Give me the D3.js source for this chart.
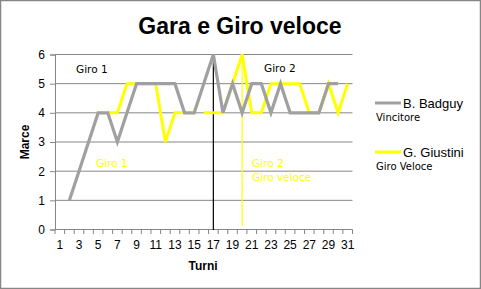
<!DOCTYPE html>
<html lang="it">
<head>
    <meta charset="utf-8">
    <title>Gara e Giro veloce</title>
    <script type="text/javascript" src="https://cdn.jsdelivr.net/npm/d3@7/dist/d3.min.js"></script>
    <style>
        body { margin: 0; background: #fff; }
        svg { display: block; font-family: "Liberation Sans", Arial, sans-serif; }
    </style>
</head>
<body>
    <svg width="481" height="289"></svg>
    <script>
        // giri 1..31
        var turni = d3.range(1, 32);
        // B. Badguy (vincitore), null = nessun dato
        var badguy = [null, 1, 2, 3, 4, 4, 3, 4, 5, 5, 5, 5, 5, 4, 4, 5, 6, 4, 5, 4, 5, 5, 4, 5, 4, 4, 4, 4, 5, 5, null];
        // G. Giustini (giro veloce)
        var giustini = [null, null, null, null, null, 4, 4, 5, 5, 5, 5, 3, 4, 4, null, 4, 4, 4, 5, 6, 4, 4, 5, 5, 5, 5, 4, 4, 5, 4, 5];
        var yTicks = [0, 1, 2, 3, 4, 5, 6];
        var xLabels = turni.filter(function (t) { return t % 2 == 1; });
        var giroLinee = [{ turno: 17, colore: "#000000" }, { turno: 20, colore: "#ffff00" }];

        var svg = d3.select("svg");
        svg.append("rect").attr("x", 0.5).attr("y", 0.5).attr("width", 480).attr("height", 288)
            .attr("fill", "#fff").attr("stroke", "#868686").attr("stroke-width", 1.5);

        var x = d3.scaleBand().domain(turni).range([55, 352.5]).padding(0);
        var y = d3.scaleLinear().domain([0, 6]).range([229.5, 54.5]);
        var cx = function (t) { return x(t) + x.bandwidth() / 2; };

        // griglia
        svg.append("g").selectAll("line")
            .data(yTicks.slice(1))
            .enter().append("line")
            .attr("x1", 55).attr("x2", 352.5)
            .attr("y1", function (d) { return y(d); })
            .attr("y2", function (d) { return y(d); })
            .attr("stroke", "#868686").attr("stroke-width", 1);

        // asse y
        var ay = svg.append("g").attr("transform", "translate(55,0)")
            .call(d3.axisLeft(y).tickValues(yTicks).tickSize(5).tickPadding(5).tickFormat(d3.format("d")));
        ay.select(".domain").attr("stroke", "#868686");
        ay.selectAll(".tick line").attr("stroke", "#868686");
        ay.selectAll("text").attr("font-size", 12).attr("fill", "#000")
            .attr("font-family", "Liberation Sans, Arial, sans-serif");

        // asse x: tacche tra le categorie
        svg.append("line").attr("x1", 55).attr("x2", 352.5).attr("y1", 229.5).attr("y2", 229.5)
            .attr("stroke", "#868686");
        svg.append("g").selectAll("line")
            .data(turni.concat([32]))
            .enter().append("line")
            .attr("x1", function (d) { return d == 32 ? 352.5 : x(d); })
            .attr("x2", function (d) { return d == 32 ? 352.5 : x(d); })
            .attr("y1", 229.5).attr("y2", 234)
            .attr("stroke", "#868686");
        svg.append("g").selectAll("text")
            .data(xLabels)
            .enter().append("text")
            .attr("x", cx).attr("y", 249)
            .attr("text-anchor", "middle").attr("font-size", 12)
            .text(function (d) { return d; });

        // linee verticali dei giri
        svg.append("g").selectAll("line")
            .data(giroLinee)
            .enter().append("line")
            .attr("x1", function (d) { return cx(d.turno); })
            .attr("x2", function (d) { return cx(d.turno); })
            .attr("y1", y(6)).attr("y2", function (d) { return d.turno == 20 ? 226 : 230; })
            .attr("stroke", function (d) { return d.colore; }).attr("stroke-width", 1.2);

        var linea = d3.line()
            .defined(function (d) { return d[1] != null; })
            .x(function (d) { return cx(d[0]); })
            .y(function (d) { return y(d[1]); });

        svg.append("path").datum(turni.map(function (t, i) { return [t, giustini[i]]; }))
            .attr("d", linea).attr("fill", "none")
            .attr("stroke", "#ffff00").attr("stroke-width", 3);
        svg.append("path").datum(turni.map(function (t, i) { return [t, badguy[i]]; }))
            .attr("d", linea).attr("fill", "none")
            .attr("stroke", "#a0a0a0").attr("stroke-width", 3.2);

        // titolo e assi
        svg.append("text").attr("x", 240).attr("y", 34).attr("text-anchor", "middle")
            .attr("font-size", 23).attr("font-weight", "bold").text("Gara e Giro veloce");
        svg.append("text").attr("x", 203).attr("y", 270).attr("text-anchor", "middle")
            .attr("font-size", 12).attr("font-weight", "bold").text("Turni");
        svg.append("text").attr("transform", "translate(29,142) rotate(-90)").attr("text-anchor", "middle")
            .attr("font-size", 12).attr("font-weight", "bold").text("Marce");

        // etichette
        var etichette = [
            { t: "Giro 1", x: 76, y: 73, c: "#000" },
            { t: "Giro 1", x: 96, y: 167, c: "#ffff00" },
            { t: "Giro 2", x: 264, y: 72, c: "#000" },
            { t: "Giro 2", x: 252, y: 167, c: "#ffff00" },
            { t: "Giro veloce", x: 252, y: 181, c: "#ffff00" }
        ];
        svg.append("g").selectAll("text")
            .data(etichette)
            .enter().append("text")
            .attr("x", function (d) { return d.x; }).attr("y", function (d) { return d.y; })
            .attr("font-family", "DejaVu Sans, sans-serif").attr("font-size", 10.5)
            .attr("fill", function (d) { return d.c; })
            .text(function (d) { return d.t; });

        // legenda
        var legenda = [
            { nome: "B. Badguy", sotto: "Vincitore", colore: "#a0a0a0", y: 103 },
            { nome: "G. Giustini", sotto: "Giro Veloce", colore: "#ffff00", y: 152 }
        ];
        var lg = svg.append("g").selectAll("g").data(legenda).enter().append("g");
        lg.append("line").attr("x1", 375).attr("x2", 401)
            .attr("y1", function (d) { return d.y; }).attr("y2", function (d) { return d.y; })
            .attr("stroke", function (d) { return d.colore; }).attr("stroke-width", 3);
        lg.append("text").attr("x", 403).attr("y", function (d) { return d.y + 4.5; })
            .attr("font-size", 13).text(function (d) { return d.nome; });
        lg.append("text").attr("x", 376).attr("y", function (d) { return d.y + 18; })
            .attr("font-family", "DejaVu Sans, sans-serif").attr("font-size", 10)
            .text(function (d) { return d.sotto; });
    </script>
</body>
</html>
